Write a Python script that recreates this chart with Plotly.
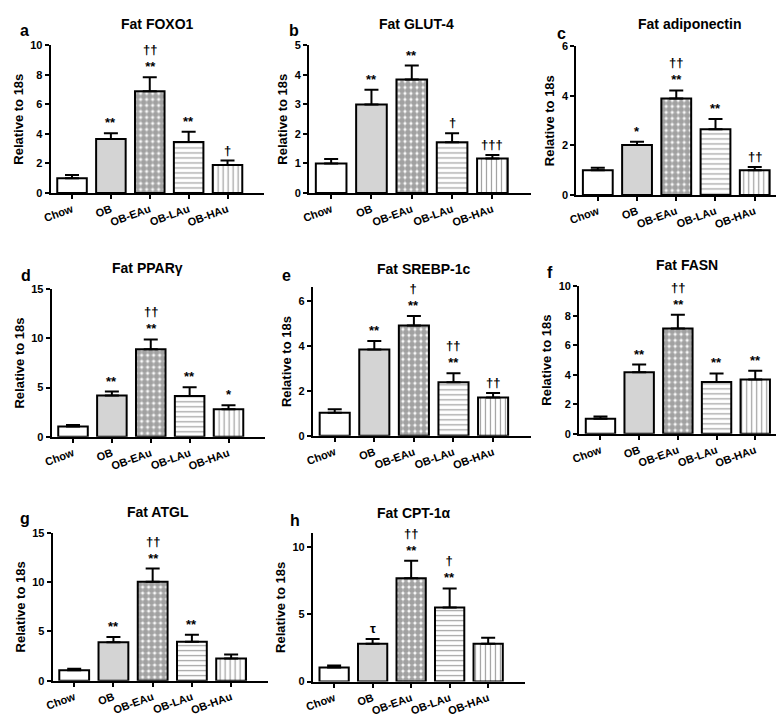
import plotly.graph_objects as go

groups = ["Chow", "OB", "OB-EAu", "OB-LAu", "OB-HAu"]

foxo1_mean = [1.0, 3.65, 6.9, 3.45, 1.9]
foxo1_err = [0.22, 0.4, 0.95, 0.7, 0.3]
glut4_mean = [1.0, 3.0, 3.85, 1.72, 1.17]
glut4_err = [0.15, 0.5, 0.47, 0.3, 0.12]
adipo_mean = [1.0, 2.02, 3.9, 2.65, 1.0]
adipo_err = [0.1, 0.13, 0.32, 0.42, 0.13]
pparg_mean = [1.05, 4.2, 8.9, 4.15, 2.8]
pparg_err = [0.15, 0.4, 1.0, 0.9, 0.42]
srebp_mean = [1.02, 3.84, 4.9, 2.38, 1.7]
srebp_err = [0.16, 0.37, 0.43, 0.4, 0.2]
fasn_mean = [1.03, 4.17, 7.15, 3.52, 3.68]
fasn_err = [0.15, 0.53, 0.93, 0.58, 0.6]
atgl_mean = [1.05, 3.9, 10.05, 3.95, 2.25]
atgl_err = [0.17, 0.55, 1.35, 0.72, 0.4]
cpt_mean = [1.05, 2.8, 7.65, 5.5, 2.8]
cpt_err = [0.15, 0.35, 1.3, 1.4, 0.45]

foxo1_sig = ["", "**", "††<br>**", "**", "†"]
glut4_sig = ["", "**", "**", "†", "†††"]
adipo_sig = ["", "*", "††<br>**", "**", "††"]
pparg_sig = ["", "**", "††<br>**", "**", "*"]
srebp_sig = ["", "**", "†<br>**", "††<br>**", "††"]
fasn_sig = ["", "**", "††<br>**", "**", "**"]
atgl_sig = ["", "**", "††<br>**", "**", ""]
cpt_sig = ["", "τ", "††<br>**", "†<br>**", ""]

W, H = 784, 716
FONT = "Liberation Sans, Arial, sans-serif"

# panel: (letter, title, mean, err, sig, ymax, dtick, x0,x1 px, ytop,ybot px, title(x,y), letter(x,y))
panels = [
    ("a", "Fat FOXO1", foxo1_mean, foxo1_err, foxo1_sig, 10, 2, 35, 251, 32, 182, (143, 10), (9, 17)),
    ("b", "Fat GLUT-4", glut4_mean, glut4_err, glut4_sig, 5, 1, 296, 520, 32, 182, (405, 10), (281, 17)),
    ("c", "Fat adiponectin", adipo_mean, adipo_err, adipo_sig, 6, 2, 566, 784, 33, 184, (680, 10), (551, 20)),
    ("d", "Fat PPARγ", pparg_mean, pparg_err, pparg_sig, 15, 5, 36, 252, 280, 430, (133, 258), (10, 266)),
    ("e", "Fat SREBP-1c", srebp_mean, srebp_err, srebp_sig, 6.6, 2, 300, 520, 278, 429, (412, 259), (273, 266)),
    ("f", "Fat FASN", fasn_mean, fasn_err, fasn_sig, 10, 2, 569, 784, 277, 427, (678, 255), (540, 263)),
    ("g", "Fat ATGL", atgl_mean, atgl_err, atgl_sig, 15, 5, 37, 255, 528, 678, (143, 506), (9, 513)),
    ("h", "Fat CPT-1α", cpt_mean, cpt_err, cpt_sig, 11, 5, 300, 514, 528, 679, (402, 508), (282, 515)),
]

bar_colors = ["white", "#d4d4d4", "white", "white", "white"]
bar_shapes = ["", "", ".", "-", "|"]
bar_fg = ["black", "black", "black", "#444444", "#444444"]
bar_size = [6, 6, 6, 5, 5]
bar_solid = [0.3, 0.3, 0.75, 0.25, 0.25]

fig = go.Figure()
layout = dict(
    width=W, height=H, margin=dict(l=0, r=0, t=0, b=0),
    paper_bgcolor="white", plot_bgcolor="white", showlegend=False,
    font=dict(family=FONT, color="black"),
)
annotations = []

for i, (letter, title, mean, err, sig, ymax, dtick, x0, x1, yt, yb, tpos, lpos) in enumerate(panels):
    n = i + 1
    xa = "x" if n == 1 else f"x{n}"
    ya = "y" if n == 1 else f"y{n}"
    fig.add_trace(go.Bar(
        x=groups, y=mean, xaxis=xa, yaxis=ya, width=0.76,
        marker=dict(
            color=bar_colors,
            line=dict(color="black", width=2),
            pattern=dict(shape=bar_shapes, fgcolor=bar_fg, bgcolor="white",
                         size=bar_size, solidity=bar_solid),
        ),
        error_y=dict(type="data", array=err, arrayminus=[0] * 5, symmetric=False,
                     color="black", thickness=2, width=7),
    ))
    xkey = "xaxis" if n == 1 else f"xaxis{n}"
    ykey = "yaxis" if n == 1 else f"yaxis{n}"
    layout[xkey] = dict(
        domain=[x0 / W, x1 / W], anchor=ya, type="category",
        range=[-0.55, 4.95], showline=True, linecolor="black", linewidth=2,
        ticks="outside", ticklen=4, tickwidth=1.5, tickcolor="black",
        tickangle=-20, showgrid=False, zeroline=False,
        tickfont=dict(family=FONT, size=11, weight="bold", color="black"),
    )
    layout[ykey] = dict(
        domain=[1 - yb / H, 1 - yt / H], anchor=xa,
        range=[0, ymax], dtick=dtick, tick0=0, showline=True, linecolor="black", linewidth=2,
        ticks="outside", ticklen=4, tickwidth=1.5, tickcolor="black",
        showgrid=False, zeroline=False,
        tickfont=dict(family=FONT, size=11, weight="bold", color="black"),
        title=dict(text="Relative to 18s", standoff=4,
                   font=dict(family=FONT, size=13, weight="bold", color="black")),
    )
    annotations.append(dict(
        text=title, xref="paper", yref="paper", x=tpos[0] / W, y=1 - tpos[1] / H,
        xanchor="center", yanchor="middle", showarrow=False,
        font=dict(family=FONT, size=14, weight="bold", color="black"),
    ))
    annotations.append(dict(
        text=letter, xref="paper", yref="paper", x=lpos[0] / W, y=1 - lpos[1] / H,
        xanchor="center", yanchor="middle", showarrow=False,
        font=dict(family=FONT, size=16, weight="bold", color="black"),
    ))
    for g, m, e, s in zip(groups, mean, err, sig):
        if s:
            annotations.append(dict(
                text=s, xref=xa, yref=ya, x=g, y=m + e,
                xanchor="center", yanchor="bottom", yshift=1, showarrow=False,
                font=dict(family=FONT, size=13, weight="bold", color="#000000"),
            ))

layout["annotations"] = annotations
fig.update_layout(**layout)
fig.write_html("out.html")
